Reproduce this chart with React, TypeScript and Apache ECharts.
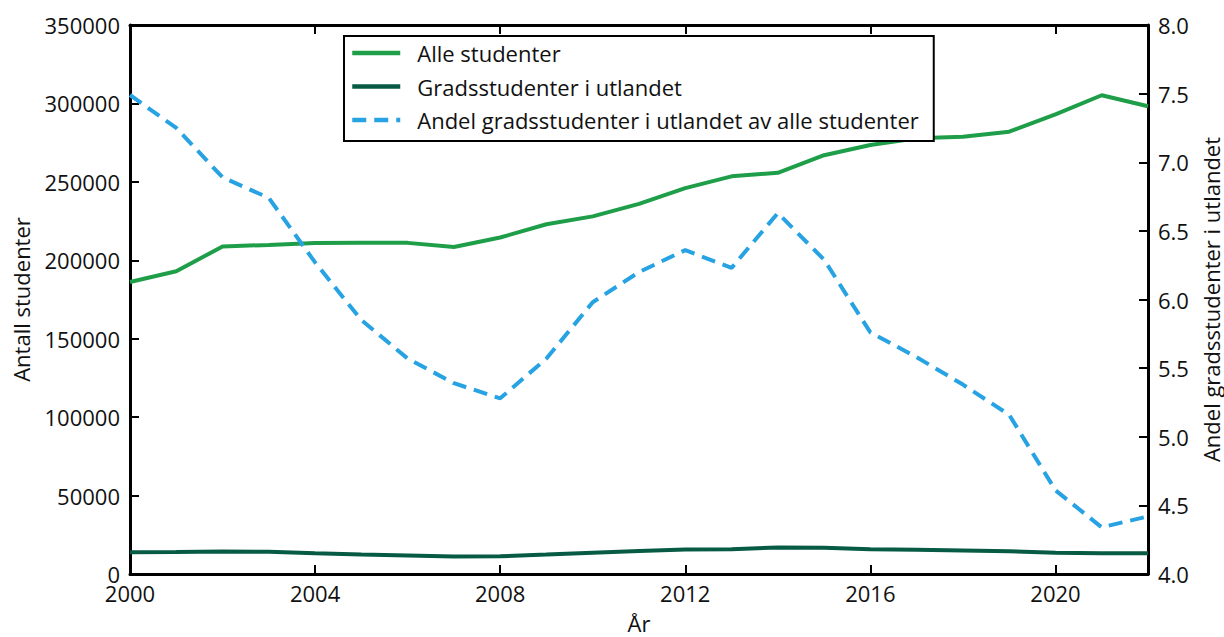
import React, { useEffect, useRef } from "react";
import * as echarts from "echarts";

const years = [2000, 2001, 2002, 2003, 2004, 2005, 2006, 2007, 2008, 2009, 2010, 2011, 2012, 2013, 2014, 2015, 2016, 2017, 2018, 2019, 2020, 2021, 2022];
const alleStudenter = [186200, 193000, 208800, 209800, 211000, 211200, 211100, 208500, 214500, 223000, 228000, 236000, 246000, 253500, 255800, 267000, 273500, 277800, 278700, 282000, 293000, 305200, 298200];
const gradsUtlandet = [13900, 14000, 14400, 14200, 13200, 12400, 11800, 11200, 11300, 12400, 13600, 14600, 15600, 15800, 16900, 16700, 15800, 15500, 15000, 14500, 13500, 13200, 13200];
const andelUtlandet = [7.49, 7.25, 6.89, 6.74, 6.27, 5.85, 5.57, 5.39, 5.28, 5.57, 5.98, 6.2, 6.36, 6.23, 6.63, 6.29, 5.76, 5.58, 5.38, 5.16, 4.61, 4.34, 4.42];

const seriesNames = ["Alle studenter", "Gradsstudenter i utlandet", "Andel gradsstudenter i utlandet av alle studenter"];
const FONT = "'Open Sans', 'Noto Sans', sans-serif";
const FS = 22;

export default function App() {
  const ref = useRef<HTMLDivElement>(null);
  useEffect(() => {
    if (!ref.current) return;
    const chart = echarts.init(ref.current, null, { renderer: "svg" });
    const pair = (arr: number[]) => years.map((y, i) => [y, arr[i]]);
    const axisLine = { show: true, onZero: false, lineStyle: { color: "#000", width: 3 } };
    const tick = { show: true, inside: true, length: 9, lineStyle: { color: "#000", width: 2 } };
    const label = { color: "#111", fontSize: FS, fontFamily: FONT };
    chart.setOption({
      animation: false,
      textStyle: { fontFamily: FONT },
      grid: { left: 130, right: 76, top: 25, bottom: 63, containLabel: false, outerBoundsMode: "none" },
      legend: {
        orient: "vertical",
        left: 344,
        top: 36,
        padding: [6, 15, 10, 6],
        itemGap: 11.5,
        itemWidth: 48,
        itemHeight: 20,
        borderColor: "#000",
        borderWidth: 2,
        backgroundColor: "#fff",
        itemStyle: { opacity: 0 },
        lineStyle: { width: 4.5 },
        textStyle: { fontSize: FS, color: "#111", fontFamily: FONT, padding: [0, 0, 0, 12] },
        data: seriesNames,
      },
      xAxis: [
        {
          type: "value",
          min: 2000,
          max: 2022,
          interval: 4,
          position: "bottom",
          name: "År",
          nameLocation: "middle",
          nameGap: 38,
          nameTextStyle: { fontSize: FS, color: "#111", fontFamily: FONT },
          axisLine,
          axisTick: tick,
          splitLine: { show: false },
          axisLabel: { ...label, margin: 8, showMaxLabel: false, formatter: (v: number) => String(v) },
        },
        {
          type: "value",
          min: 2000,
          max: 2022,
          interval: 4,
          position: "top",
          axisLine,
          axisTick: tick,
          splitLine: { show: false },
          axisLabel: { show: false },
        },
      ],
      yAxis: [
        {
          type: "value",
          min: 0,
          max: 350000,
          interval: 50000,
          position: "left",
          name: "Antall studenter",
          nameLocation: "middle",
          nameGap: 98,
          nameTextStyle: { fontSize: FS, color: "#111", fontFamily: FONT },
          axisLine,
          axisTick: tick,
          splitLine: { show: false },
          axisLabel: { ...label, margin: 10, formatter: (v: number) => String(v) },
        },
        {
          type: "value",
          min: 4,
          max: 8,
          interval: 0.5,
          position: "right",
          name: "Andel gradsstudenter i utlandet",
          nameLocation: "middle",
          nameGap: 42,
          nameTextStyle: { fontSize: FS, color: "#111", fontFamily: FONT },
          axisLine,
          axisTick: tick,
          splitLine: { show: false },
          axisLabel: { ...label, margin: 10, formatter: (v: number) => v.toFixed(1) },
        },
      ],
      series: [
        {
          name: seriesNames[0],
          type: "line",
          xAxisIndex: 0,
          yAxisIndex: 0,
          data: pair(alleStudenter),
          symbol: "none",
          lineStyle: { color: "#1f9e49", width: 4 },
          itemStyle: { color: "#1f9e49" },
        },
        {
          name: seriesNames[1],
          type: "line",
          xAxisIndex: 0,
          yAxisIndex: 0,
          data: pair(gradsUtlandet),
          symbol: "none",
          lineStyle: { color: "#075a43", width: 4 },
          itemStyle: { color: "#075a43" },
        },
        {
          name: seriesNames[2],
          type: "line",
          xAxisIndex: 0,
          yAxisIndex: 1,
          data: pair(andelUtlandet),
          symbol: "none",
          lineStyle: { color: "#27a2e3", width: 4, type: [14, 8] },
          itemStyle: { color: "#27a2e3" },
        },
      ],
    });
    return () => chart.dispose();
  }, []);
  return <div ref={ref} style={{ width: 1224, height: 637, position: "absolute", left: 0, top: 0 }} />;
}
